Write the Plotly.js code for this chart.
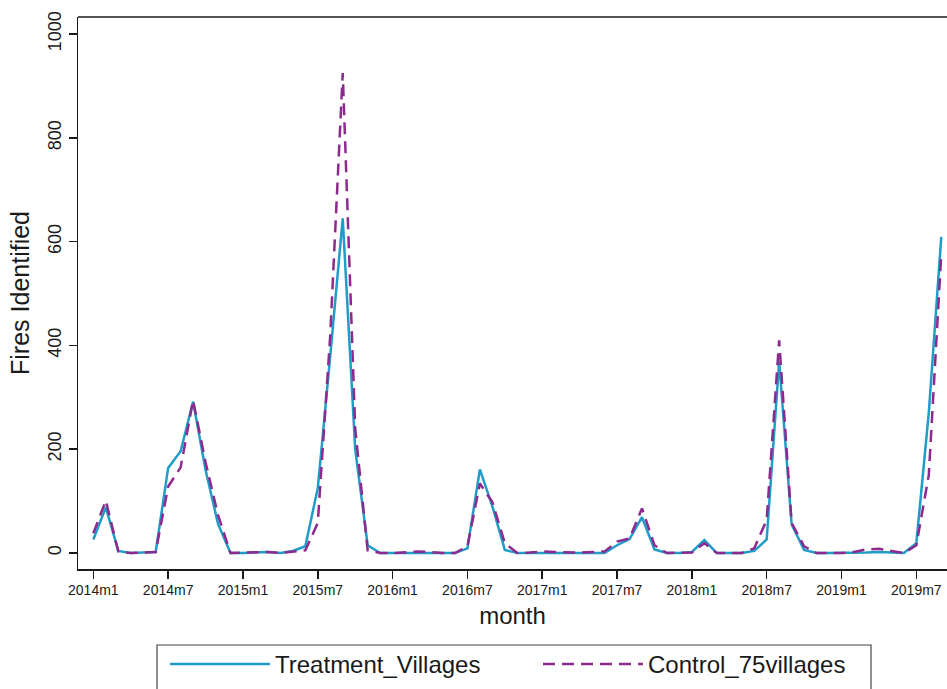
<!DOCTYPE html>
<html>
<head>
<meta charset="utf-8">
<script src="https://cdn.plot.ly/plotly-3.0.1.min.js"></script>
<style>
  html, body { margin: 0; padding: 0; background: #fff; }
  #chart { width: 947px; height: 689px; }
</style>
</head>
<body>
<div id="chart"></div>
<script>
// Month categories: 2014m1 .. 2019m9
const startYear = 2014;
const nMonths = 69;
const months = [];
for (let i = 0; i < nMonths; i++) {
  months.push((startYear + Math.floor(i / 12)) + 'm' + ((i % 12) + 1));
}

const tickLabels = ['2014m1','2014m7','2015m1','2015m7','2016m1','2016m7',
                    '2017m1','2017m7','2018m1','2018m7','2019m1','2019m7'];
const yTicks = [0, 200, 400, 600, 800, 1000];

const treatmentVillages = [
  26, 88, 4, 0, 1, 2, 164, 196, 292, 160, 56, 0,
  0, 1, 2, 0, 4, 13, 125, 380, 645, 200, 15, 0,
  0, 0, 1, 0, 0, 0, 9, 161, 90, 6, 0, 0,
  1, 1, 0, 0, 0, 0, 15, 27, 69, 7, 0, 0,
  2, 25, 0, 0, 0, 4, 26, 369, 55, 6, 0, 0,
  0, 0, 1, 2, 1, 0, 19, 270, 609
];

const control75Villages = [
  38, 101, 3, 0, 1, 2, 128, 165, 294, 175, 73, 0,
  1, 2, 2, 0, 3, 5, 58, 420, 925, 240, 5, 0,
  0, 1, 3, 2, 0, 0, 13, 134, 98, 19, 0, 1,
  3, 2, 1, 1, 2, 3, 22, 28, 86, 15, 0, 0,
  1, 19, 0, 0, 0, 9, 64, 410, 58, 13, 0, 0,
  0, 2, 7, 8, 4, 0, 15, 150, 575
];

const axisColor = '#1a1a1a';
const textColor = '#1a1a1a';

const traces = [
  {
    x: months, y: treatmentVillages, type: 'scatter', mode: 'lines',
    name: 'Treatment_Villages',
    line: { color: '#1f9cc8', width: 2.5 }
  },
  {
    x: months, y: control75Villages, type: 'scatter', mode: 'lines',
    name: 'Control_75villages',
    line: { color: '#8c2a8e', width: 2.5, dash: '12px,7px' }
  }
];

const W = 947, H = 689;
const L = 78, R = 0, T = 17, B = 120;
const pw = W - L - R, ph = H - T - B;
const px = v => (v - L) / pw;
const py = v => (H - B - v) / ph;

const layout = {
  width: W, height: H,
  margin: { l: L, r: R, t: T, b: B, pad: 0 },
  paper_bgcolor: '#ffffff',
  plot_bgcolor: '#ffffff',
  font: { family: 'Liberation Sans, Arial, sans-serif', color: textColor },
  showlegend: true,
  legend: {
    orientation: 'h',
    x: px(165), xanchor: 'left',
    y: py(642), yanchor: 'top',
    itemwidth: 100,
    entrywidth: 258,
    font: { size: 24, color: textColor },
    bgcolor: 'rgba(0,0,0,0)',
    borderwidth: 0
  },
  xaxis: {
    type: 'category',
    range: [-1.23, 68.46],
    tickmode: 'array',
    tickvals: tickLabels,
    ticktext: tickLabels,
    ticks: 'outside', ticklen: 8, tickwidth: 1.5, tickcolor: axisColor,
    showline: true, linecolor: axisColor, linewidth: 1.5,
    showgrid: false, zeroline: false,
    tickfont: { size: 14, color: textColor },
    title: { text: 'month', font: { size: 24, color: textColor }, standoff: 10 }
  },
  yaxis: {
    range: [-30.8, 1032.8],
    tickmode: 'array',
    tickvals: yTicks,
    ticks: 'outside', ticklen: 8, tickwidth: 1.5, tickcolor: axisColor,
    tickangle: -90,
    showline: true, linecolor: axisColor, linewidth: 1.5,
    showgrid: false, zeroline: false,
    tickfont: { size: 18, color: textColor },
    title: { text: 'Fires Identified', font: { size: 25, color: textColor }, standoff: 8 }
  },
  shapes: [
    { type: 'line', xref: 'paper', yref: 'paper', x0: 0, x1: 1, y0: 1, y1: 1,
      line: { color: axisColor, width: 1.5 } },
    { type: 'rect', xref: 'paper', yref: 'paper',
      x0: px(157), x1: px(871), y0: py(645), y1: py(702),
      line: { color: '#444', width: 1.2 }, fillcolor: 'rgba(0,0,0,0)' }
  ]
};

Plotly.newPlot('chart', traces, layout, { displayModeBar: false, staticPlot: true });
</script>
</body>
</html>
